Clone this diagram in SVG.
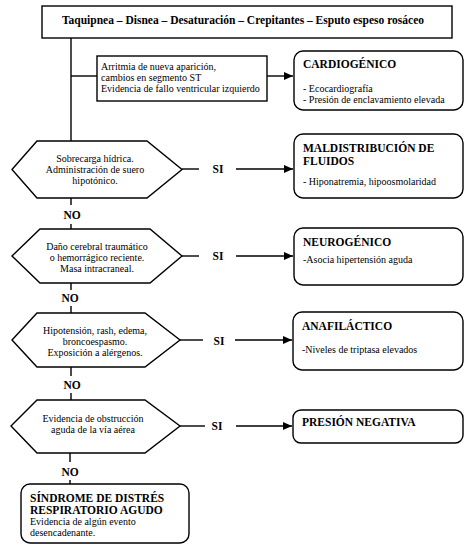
<svg xmlns="http://www.w3.org/2000/svg" width="474" height="550" viewBox="0 0 474 550">
<defs>
<marker id="ah" markerWidth="9" markerHeight="8" refX="9" refY="4" orient="auto" markerUnits="userSpaceOnUse">
<path d="M0,0 L9,4 L0,8 Z" fill="#000"/>
</marker>
<style>
.box{fill:#fff;stroke:#000;stroke-width:1.4}
.ln{fill:none;stroke:#000;stroke-width:1.4}
.t{font-family:"Liberation Serif","Times New Roman",serif;font-size:10px;fill:#000}
.b{font-family:"Liberation Serif","Times New Roman",serif;font-size:11.5px;font-weight:bold;fill:#000}
.c{text-anchor:middle}
</style>
</defs>
<rect width="474" height="550" fill="#fff"/>
<g id="connectors">
<path class="ln" d="M71,38 V141"/>
<path class="ln" d="M71,76 H97"/>
<path class="ln" d="M267,76 H293" marker-end="url(#ah)"/>
<path class="ln" d="M182,169 H199"/>
<path class="ln" d="M236,169 H293" marker-end="url(#ah)"/>
<path class="ln" d="M71,198 V205 M71,224 V229"/>
<path class="ln" d="M182,256 H199"/>
<path class="ln" d="M236,256 H293" marker-end="url(#ah)"/>
<path class="ln" d="M71,283 V290 M71,306 V313"/>
<path class="ln" d="M180,340 H203"/>
<path class="ln" d="M235,340 H292" marker-end="url(#ah)"/>
<path class="ln" d="M71,367 V376 M71,393 V400"/>
<path class="ln" d="M180,426 H205"/>
<path class="ln" d="M236,426 H292" marker-end="url(#ah)"/>
<path class="ln" d="M70,453 V462 M70,480 V484"/>
<text class="b c" x="218" y="173">SI</text>
<text class="b c" x="218" y="260">SI</text>
<text class="b c" x="219" y="345">SI</text>
<text class="b c" x="217" y="430">SI</text>
<text class="b c" x="72" y="219">NO</text>
<text class="b c" x="70" y="302">NO</text>
<text class="b c" x="72" y="389">NO</text>
<text class="b c" x="70" y="476">NO</text>
</g>
<g id="top">
<rect class="box" x="42" y="6" width="410" height="32"/>
<text class="b c" x="243" y="24">Taquipnea – Disnea – Desaturación – Crepitantes – Esputo espeso rosáceo</text>
</g>
<g id="arritmia">
<rect class="box" x="97" y="56" width="170" height="45"/>
<text class="t" x="101" y="70">Arritmia de nueva aparición,</text>
<text class="t" x="101" y="81">cambios en segmento ST</text>
<text class="t" x="101" y="92">Evidencia de fallo ventricular izquierdo</text>
</g>
<g id="cardiogenico">
<rect class="box" x="294" y="51" width="169" height="59" rx="9"/>
<text class="b" x="303" y="68">CARDIOGÉNICO</text>
<text class="t" x="303" y="92">- Ecocardiografía</text>
<text class="t" x="303" y="103">- Presión de enclavamiento elevada</text>
</g>
<g id="d1">
<polygon class="box" points="12,169.5 37,141 147,141 182,169.5 147,198 37,198"/>
<text class="t c" x="95" y="162">Sobrecarga hídrica.</text>
<text class="t c" x="95" y="173">Administración de suero</text>
<text class="t c" x="95" y="184">hipotónico.</text>
</g>
<g id="maldistribucion">
<rect class="box" x="294" y="134" width="169" height="64" rx="9"/>
<text class="b" x="303" y="152">MALDISTRIBUCIÓN DE</text>
<text class="b" x="303" y="165">FLUIDOS</text>
<text class="t" x="303" y="185">- Hiponatremia, hipoosmolaridad</text>
</g>
<g id="d2">
<polygon class="box" points="12,256 40,229 150,229 182,256 150,283 40,283"/>
<text class="t c" x="97" y="250">Daño cerebral traumático</text>
<text class="t c" x="97" y="261">o hemorrágico reciente.</text>
<text class="t c" x="97" y="272">Masa intracraneal.</text>
</g>
<g id="neurogenico">
<rect class="box" x="294" y="228" width="169" height="57" rx="9"/>
<text class="b" x="303" y="246">NEUROGÉNICO</text>
<text class="t" x="303" y="263">-Asocia hipertensión aguda</text>
</g>
<g id="d3">
<polygon class="box" points="12,340 37,313 145,313 180,340 145,367 37,367"/>
<text class="t c" x="95" y="334">Hipotensión, rash, edema,</text>
<text class="t c" x="95" y="345">broncoespasmo.</text>
<text class="t c" x="95" y="356">Exposición a alérgenos.</text>
</g>
<g id="anafilactico">
<rect class="box" x="293" y="312" width="170" height="58" rx="9"/>
<text class="b" x="302" y="330">ANAFILÁCTICO</text>
<text class="t" x="302" y="353">-Niveles de triptasa elevados</text>
</g>
<g id="d4">
<polygon class="box" points="11,426 37,400 145,400 180,426 145,453 37,453"/>
<text class="t c" x="93" y="422">Evidencia de obstrucción</text>
<text class="t c" x="93" y="433">aguda de la vía aérea</text>
</g>
<g id="presion">
<rect class="box" x="293" y="410" width="170" height="33" rx="8"/>
<text class="b" x="302" y="426">PRESIÓN NEGATIVA</text>
</g>
<g id="sdra">
<rect class="box" x="21" y="484" width="168" height="59" rx="9"/>
<text class="b" x="30" y="502">SÍNDROME DE DISTRÉS</text>
<text class="b" x="30" y="514">RESPIRATORIO AGUDO</text>
<text class="t" x="30" y="525">Evidencia de algún evento</text>
<text class="t" x="30" y="536">desencadenante.</text>
</g>
</svg>
